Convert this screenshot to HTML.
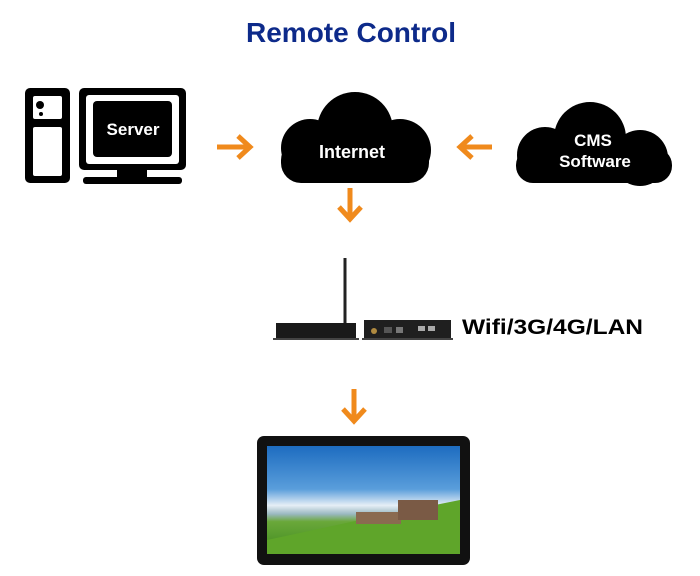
<!DOCTYPE html>
<html><head><meta charset="utf-8"><style>html,body{margin:0;padding:0;background:#fff}svg{display:block}</style></head>
<body>
<svg width="700" height="576" viewBox="0 0 700 576" xmlns="http://www.w3.org/2000/svg">
<defs>
<linearGradient id="sky" x1="0" y1="0" x2="0" y2="1">
<stop offset="0" stop-color="#1d6cc0"/><stop offset="0.4" stop-color="#5a9edb"/><stop offset="0.55" stop-color="#e6eef6"/><stop offset="0.63" stop-color="#9ab8c0"/><stop offset="0.7" stop-color="#6aa83a"/><stop offset="1" stop-color="#3f8a1e"/>
</linearGradient>
</defs>
<text x="351" y="42" text-anchor="middle" font-family="Liberation Sans, sans-serif" font-weight="bold" font-size="28" fill="#0d2a8a">Remote Control</text>
<!-- PC -->
<rect x="25" y="88" width="45" height="95" rx="5" fill="#000"/>
<rect x="33" y="96" width="29" height="23" rx="2" fill="#fff"/>
<rect x="33" y="127" width="29" height="49" rx="2" fill="#fff"/>
<circle cx="40" cy="105" r="4" fill="#000"/><circle cx="41" cy="114" r="2" fill="#000"/>
<rect x="79" y="88" width="107" height="82" rx="5" fill="#000"/>
<rect x="86" y="95" width="93" height="69" rx="3" fill="#fff"/>
<rect x="93" y="101" width="79" height="56" rx="4" fill="#000"/>
<text x="133" y="135" text-anchor="middle" font-family="Liberation Sans, sans-serif" font-weight="bold" font-size="17" fill="#fff">Server</text>
<rect x="117" y="170" width="30" height="8" fill="#000"/>
<rect x="83" y="177" width="99" height="7" rx="3" fill="#000"/>
<!-- arrows -->
<g stroke="#f08a1c" stroke-width="5" fill="none">
<path d="M217 147H249M238 136L250 147L238 158"/>
<path d="M492 147H461M472 136L460 147L472 158"/>
<path d="M350 188V218M339 207L350 219L361 207"/>
<path d="M354 389V420M343 409L354 421L365 409"/>
</g>
<!-- Internet cloud -->
<g fill="#000">
<circle cx="355" cy="130" r="38"/><circle cx="310" cy="148" r="29"/><circle cx="400" cy="150" r="31"/>
<rect x="281" y="140" width="148" height="43" rx="20"/>
</g>
<text x="352" y="158" text-anchor="middle" font-family="Liberation Sans, sans-serif" font-weight="bold" font-size="18" fill="#fff">Internet</text>
<!-- CMS cloud -->
<g fill="#000">
<circle cx="590" cy="138" r="36"/><circle cx="545" cy="155" r="28"/><circle cx="640" cy="158" r="28"/>
<rect x="516" y="148" width="156" height="35" rx="17"/>
</g>
<text x="593" y="146" text-anchor="middle" font-family="Liberation Sans, sans-serif" font-weight="bold" font-size="17" fill="#fff">CMS</text>
<text x="595" y="167" text-anchor="middle" font-family="Liberation Sans, sans-serif" font-weight="bold" font-size="17" fill="#fff">Software</text>
<!-- devices -->
<rect x="343.5" y="258" width="3" height="66" fill="#222"/>
<rect x="276" y="323" width="80" height="16" fill="#1a1a1a"/>
<rect x="273" y="338" width="86" height="2" fill="#444"/>
<rect x="364" y="320" width="87" height="19" fill="#1f1f1f"/>
<rect x="362" y="338" width="91" height="2" fill="#444"/>
<circle cx="374" cy="331" r="3" fill="#b08a40"/>
<rect x="384" y="327" width="8" height="6" fill="#555"/><rect x="396" y="327" width="7" height="6" fill="#777"/>
<rect x="418" y="326" width="7" height="5" fill="#aaa"/><rect x="428" y="326" width="7" height="5" fill="#aaa"/>
<text x="462" y="334" font-family="Liberation Sans, sans-serif" font-weight="bold" font-size="21" textLength="181" lengthAdjust="spacingAndGlyphs" fill="#000">Wifi/3G/4G/LAN</text>
<!-- display -->
<rect x="257" y="436" width="213" height="129" rx="7" fill="#111"/>
<rect x="267" y="446" width="193" height="108" fill="url(#sky)"/>
<path d="M267 540 L360 520 L460 500 V554 H267Z" fill="#5fa52a"/>
<rect x="356" y="512" width="45" height="12" fill="#8a6a50"/>
<rect x="398" y="500" width="40" height="20" fill="#7a5a45"/>
</svg>
</body></html>
